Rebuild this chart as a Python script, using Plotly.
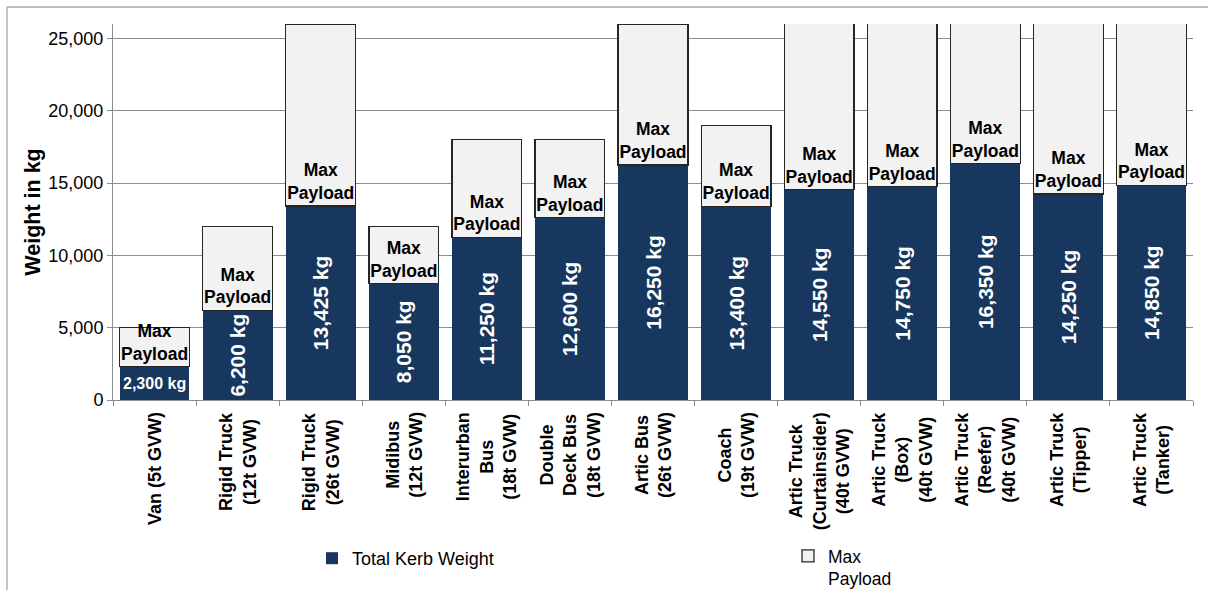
import plotly.graph_objects as go

# Vehicle categories (line breaks give the wrapped axis labels)
vehicles = [
    "Van (5t GVW)",
    "Rigid Truck<br>(12t GVW)",
    "Rigid Truck<br>(26t GVW)",
    "Midibus<br>(12t GVW)",
    "Interurban<br>Bus<br>(18t GVW)",
    "Double<br>Deck Bus<br>(18t GVW)",
    "Artic Bus<br>(26t GVW)",
    "Coach<br>(19t GVW)",
    "Artic Truck<br>(Curtainsider)<br>(40t GVW)",
    "Artic Truck<br>(Box)<br>(40t GVW)",
    "Artic Truck<br>(Reefer)<br>(40t GVW)",
    "Artic Truck<br>(Tipper)",
    "Artic Truck<br>(Tanker)",
]

# Weights in kg
kerb_weight = [2300, 6200, 13425, 8050, 11250, 12600, 16250, 13400,
               14550, 14750, 16350, 14250, 14850]
max_payload = [2700, 5800, 12575, 3950, 6750, 5400, 9750, 5600,
               25450, 25250, 23650, 25750, 25150]

y_ticks = [0, 5000, 10000, 15000, 20000, 25000]
y_max = 26000

W, H = 1208, 590
M_L, M_R, M_T, M_B = 113, 15, 24, 190
PLOT_W = W - M_L - M_R
PLOT_H = H - M_T - M_B

FONT = "Liberation Sans, Arial, sans-serif"
NAVY = "#17375E"
PALE = "#F2F2F2"
GRID = "#8C8C8C"

kerb_text = [f"{v:,} kg" for v in kerb_weight]
# the van bar is too short for rotated text; it gets its own horizontal label
kerb_bar_text = [""] + kerb_text[1:]

fig = go.Figure()

fig.add_trace(go.Bar(
    name="Total Kerb Weight",
    x=vehicles,
    y=kerb_weight,
    marker=dict(color=NAVY, line=dict(width=0)),
    text=kerb_bar_text,
    textposition="inside",
    insidetextanchor="middle",
    textangle=-90,
    constraintext="none",
    textfont=dict(family=FONT, size=21, color="white", weight="bold"),
    hoverinfo="skip",
    legend="legend",
))

fig.add_trace(go.Bar(
    name="Max<br>Payload",
    x=vehicles,
    y=max_payload,
    marker=dict(color=PALE, line=dict(color="#262626", width=1.3)),
    text=["Max<br>Payload"] * len(vehicles),
    textposition="inside",
    insidetextanchor="start",
    textangle=0,
    constraintext="none",
    textfont=dict(family=FONT, size=17.5, color="black", weight="bold"),
    hoverinfo="skip",
    legend="legend2",
))

annotations = []
# horizontal value label on the van bar
annotations.append(dict(
    x=vehicles[0], y=kerb_weight[0] / 2, xref="x", yref="y",
    text=f"<b>{kerb_text[0]}</b>", showarrow=False,
    font=dict(family=FONT, size=16, color="white"),
))
# rotated, centre-aligned category labels under the axis
for v in vehicles:
    annotations.append(dict(
        x=v, y=0, xref="x", yref="y",
        text=f"<b>{v}</b>", showarrow=False,
        textangle=-90, align="center",
        xanchor="center", yanchor="top", yshift=-10,
        font=dict(family=FONT, size=18, color="black"),
    ))

legend_style = dict(
    orientation="h", xref="container", yref="container",
    xanchor="left", yanchor="top", valign="top",
    font=dict(family=FONT, size=18, color="black"),
    bgcolor="rgba(0,0,0,0)",
)


def px_x(px):
    return (px - M_L) / PLOT_W


def px_y(py):
    return (H - M_B - py) / PLOT_H


fig.update_layout(
    width=W, height=H,
    margin=dict(l=M_L, r=M_R, t=M_T, b=M_B),
    paper_bgcolor="white", plot_bgcolor="white",
    barmode="stack", bargap=0.16,
    font=dict(family=FONT, size=18, color="black"),
    showlegend=True,
    legend=dict(legend_style, x=312 / W, y=1 - 540 / H),
    legend2=dict(legend_style, x=788 / W, y=1 - 538 / H,
                 font=dict(family=FONT, size=17.5, color="black")),
    xaxis=dict(
        showticklabels=False, showgrid=False,
        showline=True, linecolor=GRID, linewidth=1,
        ticks="outside", tickson="boundaries", ticklen=5, tickcolor=GRID,
    ),
    yaxis=dict(
        range=[0, y_max], tickvals=y_ticks, tickformat=",",
        showgrid=True, gridcolor=GRID, gridwidth=1,
        showline=True, linecolor=GRID, linewidth=1,
        ticks="outside", ticklen=5, tickcolor=GRID,
        tickfont=dict(family=FONT, size=18, color="black"),
        zeroline=False,
        title=dict(text="<b>Weight in kg</b>", standoff=1,
                   font=dict(family=FONT, size=21.5, color="black")),
    ),
    annotations=annotations,
    shapes=[
        # outer chart frame (top and left edges)
        dict(type="line", xref="paper", yref="paper",
             x0=px_x(7), x1=px_x(W + 2), y0=px_y(7), y1=px_y(7),
             line=dict(color="#A6A6A6", width=1.3)),
        dict(type="line", xref="paper", yref="paper",
             x0=px_x(7), x1=px_x(7), y0=px_y(7), y1=px_y(H + 2),
             line=dict(color="#A6A6A6", width=1.3)),
    ],
)

fig.write_html("out.html")
